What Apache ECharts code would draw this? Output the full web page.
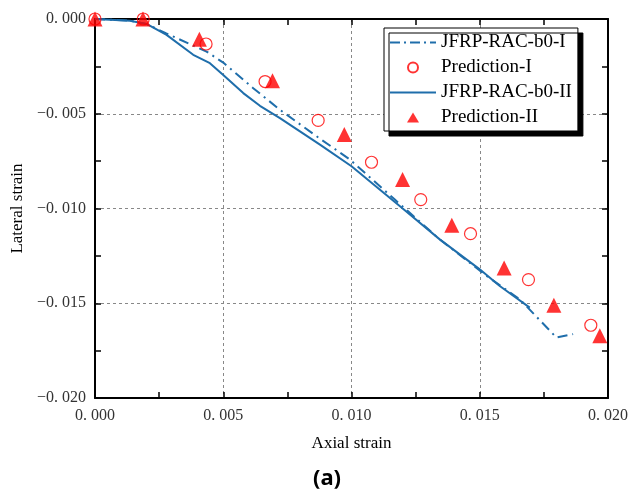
<!DOCTYPE html>
<html>
<head>
<meta charset="utf-8">
<script src="https://cdn.jsdelivr.net/npm/echarts@6/dist/echarts.min.js"></script>
<style>html,body{margin:0;padding:0;background:#fff}#c{width:631px;height:493px}</style>
</head>
<body>
<div id="c"></div>
<script>
// Data (axial strain, lateral strain)
var curveI_x = [0, 0.00136, 0.00201, 0.00276, 0.00435, 0.00500, 0.00617, 0.00721, 0.00864, 0.00994, 0.01169, 0.01344, 0.01527, 0.01656, 0.01799, 0.01864];
var curveI_y = [0, -0.00009, -0.00026, -0.00075, -0.00172, -0.00230, -0.00365, -0.00479, -0.00619, -0.00742, -0.00953, -0.01163, -0.01356, -0.01479, -0.01681, -0.01663];
var curveII_x = [0, 0.00136, 0.00201, 0.00279, 0.00383, 0.00448, 0.00500, 0.00578, 0.00643, 0.00721, 0.00877, 0.01000, 0.01189, 0.01344, 0.01500, 0.01578, 0.01695];
var curveII_y = [0, -0.00009, -0.00026, -0.00084, -0.00189, -0.00233, -0.00295, -0.00391, -0.00458, -0.00523, -0.00663, -0.00777, -0.00988, -0.01163, -0.01321, -0.01409, -0.01523];
var predI_x = [0, 0.00188, 0.00433, 0.00663, 0.00870, 0.01078, 0.01270, 0.01464, 0.01690, 0.01933];
var predI_y = [0, 0, -0.00132, -0.00330, -0.00535, -0.00756, -0.00953, -0.01133, -0.01375, -0.01616];
var predII_x = [0, 0.00187, 0.00407, 0.00692, 0.00972, 0.01199, 0.01391, 0.01595, 0.01789, 0.01968];
var predII_y = [0, 0, -0.00107, -0.00326, -0.00610, -0.00847, -0.01088, -0.01314, -0.01510, -0.01672];
var seriesNames = ['JFRP-RAC-b0-I', 'Prediction-I', 'JFRP-RAC-b0-II', 'Prediction-II'];
var xTicks = [0, 0.020, 0.005];
var yTicks = [-0.020, 0, 0.005];

function zip(a, b) { return a.map(function (v, i) { return [v, b[i]]; }); }
function fmt(v) {
  var s = Math.abs(v).toFixed(3).replace('.', '. ');
  return (v < -1e-9 ? '\u2212' : '') + s;
}
var serif = 'Liberation Serif';
var blue = '#1f6eab';
var red = '#ff0000';

var iconDashDot = 'path://M0,0h10v2h-10z M14,0h2v2h-2z M20,0h10v2h-10z M34,0h2v2h-2z M40,0h6v2h-6z';
var iconSolid = 'path://M0,0h46v2h-46z';
var iconTri = 'path://M6,0L12,10L0,10Z';

var chart = echarts.init(document.getElementById('c'), null, {renderer: 'canvas'});
var axisCommon = {
  axisLine: {show: true, onZero: false, lineStyle: {color: '#000', width: 2}},
  axisTick: {show: true, inside: true, length: 6, lineStyle: {color: '#000', width: 1.5}},
  minorTick: {show: true, splitNumber: 2, length: 6, lineStyle: {color: '#000', width: 1.5}},
  splitLine: {show: false},
  minorSplitLine: {show: false}
};
chart.setOption({
  animation: false,
  backgroundColor: '#fff',
  grid: {left: 95, right: 21, top: 19, bottom: 95, containLabel: false},
  title: {
    text: '(a)', left: 322, top: 463, textAlign: 'center',
    textStyle: {fontFamily: 'Noto Sans', fontWeight: 'bold', fontSize: 22, color: '#000'}
  },
  legend: {
    data: [
      {name: seriesNames[0], icon: iconDashDot, itemStyle: {color: blue, borderWidth: 0}},
      {name: seriesNames[1], icon: 'circle'},
      {name: seriesNames[2], icon: iconSolid, itemStyle: {color: blue, borderWidth: 0}},
      {name: seriesNames[3], icon: iconTri, itemStyle: {color: red, borderWidth: 0}}
    ],
    symbolKeepAspect: true,
    orient: 'vertical',
    left: 384, top: 28,
    itemWidth: 46, itemHeight: 10, itemGap: 6,
    padding: [5, 6, 4, 6],
    backgroundColor: '#fff',
    borderColor: '#000', borderWidth: 1,
    shadowColor: '#000', shadowBlur: 0, shadowOffsetX: 5, shadowOffsetY: 5,
    textStyle: {fontFamily: serif, fontSize: 19, color: '#000'}
  },
  xAxis: [
    Object.assign({}, axisCommon, {
      type: 'value', min: xTicks[0], max: xTicks[1], interval: xTicks[2], position: 'bottom',
      name: 'Axial strain', nameLocation: 'middle', nameGap: 37,
      nameTextStyle: {fontFamily: serif, fontSize: 17, color: '#000'},
      axisLabel: {formatter: fmt, fontFamily: serif, fontSize: 16, color: '#333', margin: 10},
      splitLine: {show: true, lineStyle: {color: '#888', type: [3, 3], width: 1}}
    }),
    Object.assign({}, axisCommon, {
      type: 'value', min: xTicks[0], max: xTicks[1], interval: xTicks[2], position: 'top',
      axisLabel: {show: false}
    })
  ],
  yAxis: [
    Object.assign({}, axisCommon, {
      type: 'value', min: yTicks[0], max: yTicks[1], interval: yTicks[2], position: 'left',
      name: 'Lateral strain', nameLocation: 'middle', nameGap: 66, nameRotate: 90,
      nameTextStyle: {fontFamily: serif, fontSize: 17, color: '#000'},
      axisLabel: {formatter: fmt, fontFamily: serif, fontSize: 16, color: '#333', margin: 9},
      splitLine: {show: true, lineStyle: {color: '#888', type: [3, 3], width: 1}}
    }),
    Object.assign({}, axisCommon, {
      type: 'value', min: yTicks[0], max: yTicks[1], interval: yTicks[2], position: 'right',
      axisLabel: {show: false}
    })
  ],
  series: [
    {
      name: seriesNames[0], type: 'line', data: zip(curveI_x, curveI_y),
      symbol: 'none', color: blue,
      lineStyle: {color: blue, width: 2, type: [10, 5, 2, 5]}, z: 2
    },
    {
      name: seriesNames[2], type: 'line', data: zip(curveII_x, curveII_y),
      symbol: 'none', color: blue,
      lineStyle: {color: blue, width: 2, type: 'solid'}, z: 2
    },
    {
      name: seriesNames[1], type: 'scatter', data: zip(predI_x, predI_y),
      symbol: 'circle', symbolSize: 12, color: red,
      itemStyle: {color: 'rgba(255,255,255,0)', borderColor: red, borderWidth: 1.2}, z: 3
    },
    {
      name: seriesNames[3], type: 'scatter', data: zip(predII_x, predII_y),
      symbol: 'triangle', symbolSize: 15, color: red,
      itemStyle: {color: red}, z: 4
    }
  ]
});
</script>
</body>
</html>
